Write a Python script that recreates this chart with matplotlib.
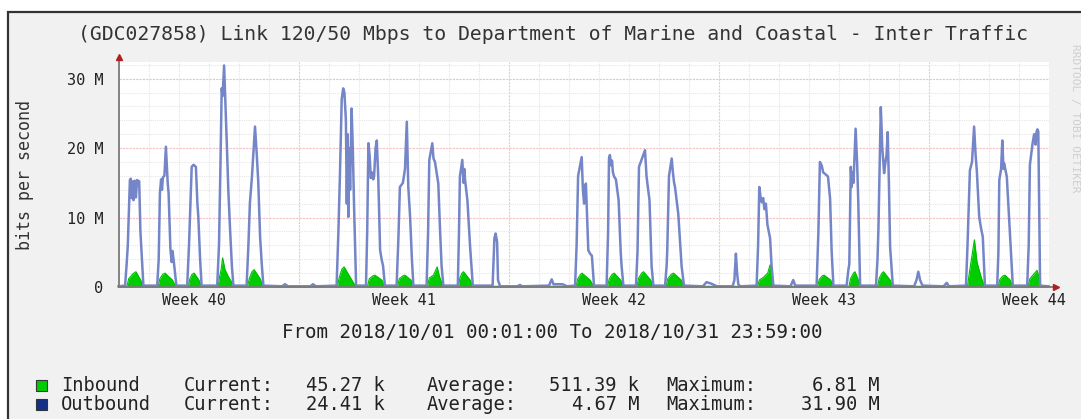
import matplotlib
matplotlib.use('Agg')
import matplotlib.pyplot as plt
from matplotlib.patches import Rectangle

W, H = 1081, 419
MONO = 'DejaVu Sans Mono'

TITLE = '(GDC027858) Link 120/50 Mbps to Department of Marine and Coastal - Inter Traffic'
PERIOD = 'From 2018/10/01 00:01:00 To 2018/10/31 23:59:00'
WEEK_POS = [2.5, 9.5, 16.5, 23.5, 30.5]          # days since 2018-10-01
WEEK_LABELS = ['Week 40', 'Week 41', 'Week 42', 'Week 43', 'Week 44']
Y_TICKS = [0, 10, 20, 30]
Y_LABELS = ['0', '10 M', '20 M', '30 M']

SERIES = ['Inbound', 'Outbound']
SERIES_COLORS = ['#00cc00', '#12308a']
CURRENT = ['45.27 k', '24.41 k']
AVERAGE = ['511.39 k', '4.67 M']
MAXIMUM = ['6.81 M', '31.90 M']

# outbound traffic, (day, Mbit/s)
OUTBOUND = [
    (0.00, 0.1), (0.22, 0.2), (0.27, 3.2), (0.31, 6.0), (0.38, 15.4), (0.41, 15.6), (0.44, 12.8),
    (0.47, 15.2), (0.50, 12.5), (0.54, 15.3), (0.58, 12.9), (0.62, 15.4), (0.69, 15.2), (0.73, 8.0),
    (0.83, 0.2),
    (1.29, 0.2), (1.34, 4.0), (1.38, 13.5), (1.42, 15.5), (1.45, 14.0), (1.48, 15.8), (1.53, 16.0),
    (1.58, 20.2), (1.64, 15.0), (1.67, 13.5), (1.73, 5.5), (1.77, 3.6), (1.80, 5.2), (1.85, 3.4),
    (1.93, 0.2),
    (2.29, 0.2), (2.35, 6.0), (2.44, 17.3), (2.50, 17.6), (2.58, 17.3), (2.63, 12.0), (2.66, 10.2),
    (2.72, 4.0), (2.77, 0.2),
    (3.29, 0.2), (3.35, 6.0), (3.40, 18.0), (3.44, 28.6), (3.47, 27.5), (3.52, 31.9), (3.56, 27.0),
    (3.61, 20.7), (3.66, 14.0), (3.72, 8.2), (3.78, 3.0), (3.83, 0.2),
    (4.27, 0.2), (4.33, 6.0), (4.38, 12.1), (4.45, 16.0), (4.55, 23.1), (4.61, 19.0), (4.66, 15.0),
    (4.72, 7.2), (4.78, 3.0), (4.83, 0.2),
    (5.45, 0.1), (5.55, 0.4), (5.65, 0.1), (6.40, 0.1), (6.48, 0.4), (6.58, 0.1),
    (7.27, 0.2), (7.33, 8.0), (7.38, 15.9), (7.44, 27.0), (7.49, 28.6), (7.53, 28.0), (7.58, 24.0),
    (7.61, 12.0), (7.64, 22.0), (7.66, 10.1), (7.69, 20.0), (7.72, 14.0), (7.77, 25.7), (7.81, 20.0),
    (7.85, 12.0), (7.92, 0.2),
    (8.25, 0.2), (8.29, 8.0), (8.33, 20.7), (8.37, 19.0), (8.41, 15.7), (8.45, 16.5), (8.49, 15.5),
    (8.52, 16.0), (8.57, 20.0), (8.61, 21.1), (8.66, 15.5), (8.72, 5.3), (8.77, 4.0), (8.82, 3.0),
    (8.88, 0.2),
    (9.27, 0.2), (9.33, 7.0), (9.38, 14.4), (9.48, 15.0), (9.55, 17.0), (9.61, 23.8), (9.66, 14.4),
    (9.72, 10.1), (9.78, 4.0), (9.83, 0.2),
    (10.27, 0.2), (10.32, 8.0), (10.36, 18.3), (10.46, 20.7), (10.50, 18.5), (10.55, 18.0),
    (10.66, 14.9), (10.72, 8.0), (10.77, 3.0), (10.83, 0.2),
    (11.31, 0.2), (11.35, 8.0), (11.38, 15.9), (11.46, 18.3), (11.50, 15.0), (11.53, 17.0),
    (11.55, 15.5), (11.63, 12.5), (11.72, 5.8), (11.81, 0.2),
    (12.47, 0.2), (12.53, 7.0), (12.57, 7.7), (12.62, 6.5), (12.65, 1.0), (12.72, 0.1),
    (13.30, 0.1), (13.38, 0.3), (13.46, 0.1), (14.35, 0.2), (14.44, 1.1), (14.50, 0.4), (14.80, 0.4),
    (14.95, 0.1),
    (15.22, 0.2), (15.27, 6.0), (15.32, 16.0), (15.44, 18.7), (15.48, 14.0), (15.52, 12.0),
    (15.55, 14.5), (15.58, 14.9), (15.66, 5.3), (15.72, 4.8), (15.78, 4.5), (15.85, 0.2),
    (16.27, 0.2), (16.32, 8.0), (16.35, 18.5), (16.38, 19.0), (16.42, 17.5), (16.45, 18.2),
    (16.48, 16.5), (16.52, 15.9), (16.58, 15.5), (16.67, 12.5), (16.74, 5.0), (16.77, 3.0),
    (16.83, 0.2),
    (17.25, 0.2), (17.30, 5.0), (17.35, 17.3), (17.45, 18.5), (17.55, 19.7), (17.60, 16.0),
    (17.63, 14.9), (17.70, 12.5), (17.77, 3.0), (17.83, 0.2),
    (18.22, 0.2), (18.27, 3.0), (18.29, 5.0), (18.35, 16.0), (18.44, 18.5), (18.48, 16.5),
    (18.52, 15.0), (18.55, 14.4), (18.66, 10.5), (18.74, 5.0), (18.77, 3.0), (18.85, 0.2),
    (19.48, 0.1), (19.60, 0.7), (19.75, 0.5), (19.95, 0.1),
    (20.47, 0.1), (20.53, 1.0), (20.58, 4.8), (20.62, 2.0), (20.66, 0.4), (20.72, 0.1),
    (21.27, 0.2), (21.32, 6.0), (21.36, 14.4), (21.40, 13.0), (21.44, 12.2), (21.49, 12.8),
    (21.53, 11.2), (21.58, 12.0), (21.63, 9.0), (21.72, 7.0), (21.77, 3.0), (21.83, 0.2),
    (22.40, 0.1), (22.49, 1.0), (22.56, 0.2),
    (23.27, 0.2), (23.33, 8.0), (23.38, 18.0), (23.44, 17.5), (23.49, 16.5), (23.55, 16.3),
    (23.65, 15.9), (23.72, 12.7), (23.77, 5.3), (23.83, 0.2),
    (24.27, 0.2), (24.33, 2.5), (24.36, 3.3), (24.41, 17.3), (24.44, 14.4), (24.47, 16.5),
    (24.50, 15.0), (24.57, 22.8), (24.62, 18.0), (24.66, 12.1), (24.72, 0.2),
    (25.25, 0.2), (25.30, 4.0), (25.33, 8.2), (25.41, 25.9), (25.46, 20.0), (25.52, 16.4),
    (25.55, 17.5), (25.60, 19.0), (25.64, 22.3), (25.68, 15.0), (25.72, 5.8), (25.81, 0.2),
    (26.52, 0.1), (26.60, 1.0), (26.66, 2.2), (26.72, 1.0), (26.80, 0.2),
    (27.50, 0.1), (27.61, 0.6), (27.68, 0.1),
    (28.25, 0.2), (28.30, 6.0), (28.38, 16.8), (28.45, 18.0), (28.52, 23.1), (28.57, 19.0),
    (28.61, 16.8), (28.69, 10.1), (28.75, 8.5), (28.81, 7.2), (28.88, 0.2),
    (29.29, 0.2), (29.33, 5.0), (29.36, 15.4), (29.42, 17.0), (29.46, 21.1), (29.50, 17.0),
    (29.52, 17.8), (29.61, 15.9), (29.72, 7.2), (29.81, 0.2),
    (30.29, 0.2), (30.34, 6.0), (30.38, 17.6), (30.47, 20.7), (30.52, 22.0), (30.57, 20.5),
    (30.60, 22.3), (30.63, 22.7), (30.66, 22.4), (30.72, 0.2), (31.00, 0.1),
]

# inbound traffic, (day, Mbit/s)
INBOUND = [
    (0.00, 0.05),
    (0.28, 0.1), (0.34, 1.2), (0.48, 1.9), (0.58, 2.2), (0.74, 1.0), (0.82, 0.1),
    (1.32, 0.1), (1.38, 1.2), (1.47, 1.8), (1.55, 2.0), (1.80, 1.0), (1.90, 0.1),
    (2.33, 0.1), (2.38, 1.2), (2.45, 1.8), (2.52, 2.0), (2.68, 1.0), (2.76, 0.1),
    (3.32, 0.1), (3.37, 1.5), (3.42, 2.5), (3.47, 4.2), (3.55, 2.5), (3.66, 1.5), (3.76, 0.8), (3.82, 0.1),
    (4.30, 0.1), (4.36, 1.2), (4.45, 2.2), (4.52, 2.5), (4.72, 1.2), (4.82, 0.1),
    (7.30, 0.1), (7.36, 1.4), (7.45, 2.6), (7.52, 2.9), (7.75, 1.2), (7.90, 0.1),
    (8.30, 0.1), (8.36, 1.2), (8.48, 1.6), (8.55, 1.7), (8.78, 1.0), (8.86, 0.1),
    (9.30, 0.1), (9.36, 1.2), (9.48, 1.6), (9.55, 1.7), (9.75, 1.0), (9.82, 0.1),
    (10.30, 0.1), (10.36, 1.3), (10.50, 1.7), (10.62, 2.9), (10.70, 1.5), (10.82, 0.1),
    (11.33, 0.1), (11.38, 1.3), (11.45, 2.0), (11.50, 2.2), (11.72, 1.0), (11.80, 0.1),
    (15.25, 0.1), (15.31, 1.2), (15.40, 1.8), (15.45, 2.0), (15.72, 1.0), (15.84, 0.1),
    (16.30, 0.1), (16.36, 1.2), (16.45, 1.8), (16.52, 2.0), (16.74, 1.0), (16.82, 0.1),
    (17.28, 0.1), (17.34, 1.3), (17.44, 2.0), (17.50, 2.2), (17.74, 1.0), (17.82, 0.1),
    (18.25, 0.1), (18.31, 1.2), (18.42, 1.8), (18.50, 2.0), (18.76, 1.0), (18.84, 0.1),
    (21.30, 0.1), (21.36, 1.0), (21.50, 1.4), (21.64, 2.0), (21.72, 3.2), (21.82, 0.1),
    (23.30, 0.1), (23.36, 1.1), (23.46, 1.6), (23.52, 1.7), (23.74, 1.0), (23.82, 0.1),
    (24.35, 0.1), (24.40, 1.2), (24.50, 2.0), (24.55, 2.2), (24.66, 1.0), (24.72, 0.1),
    (25.30, 0.1), (25.36, 1.3), (25.45, 2.0), (25.50, 2.2), (25.72, 1.0), (25.80, 0.1),
    (28.30, 0.1), (28.36, 2.0), (28.45, 4.5), (28.53, 6.8), (28.62, 3.5), (28.75, 1.5), (28.86, 0.1),
    (29.32, 0.1), (29.38, 1.1), (29.48, 1.6), (29.55, 1.7), (29.72, 1.0), (29.80, 0.1),
    (30.32, 0.1), (30.38, 1.2), (30.50, 1.8), (30.62, 2.4), (30.68, 1.5), (30.72, 0.1),
    (31.00, 0.05),
]


def fx(x):
    return x / W


def fy(y):
    return 1 - y / H


fig = plt.figure(figsize=(W / 100, H / 100), dpi=100)
fig.patch.set_facecolor('white')
fig.patches.append(Rectangle((fx(8), -0.05), 1.0, fy(12) + 0.05, transform=fig.transFigure,
                             facecolor='#f1f1f1', edgecolor='#333333', lw=1.6, zorder=-10))

ax = fig.add_axes([fx(118.5), fy(287), (1048.5 - 118.5) / W, (287 - 62) / H])
ax.set_zorder(1)
ax.set_facecolor('white')
ax.set_xlim(0, 31)
ax.set_ylim(0, 32.4)
for s in ax.spines.values():
    s.set_visible(False)

# grid: days / 2M minor, weeks / 10M major
for d in range(1, 31):
    major = d in (6, 13, 20, 27)
    ax.axvline(d, color='#e2cccc' if major else '#e4e4e4', lw=0.8,
               ls=(0, (2, 1)) if major else (0, (1, 1)), zorder=1)
for v in range(2, 33, 2):
    major = v % 10 == 0
    ax.axhline(v, color='#f3c0c0' if major else '#e6e6e6', lw=0.8,
               ls=(0, (2, 1)) if major else (0, (1, 1)), zorder=1)

in_t = [p[0] for p in INBOUND]
in_v = [p[1] for p in INBOUND]
out_t = [p[0] for p in OUTBOUND]
out_v = [p[1] for p in OUTBOUND]

ax.fill_between(in_t, in_v, 0, color='#00cc00', lw=0, zorder=2)
ax.plot(in_t, in_v, color='#00bb00', lw=0.8, zorder=2)
ax.plot(out_t, out_v, color='#7485c8', lw=1.8, zorder=3, clip_on=False)

# axes with arrows
ax.plot([0, 31.2], [0, 0], color='#7a7a7a', lw=1.3, zorder=4, clip_on=False)
ax.plot([0, 0], [0, 33.0], color='#7a7a7a', lw=1.3, zorder=4, clip_on=False)
ax.plot([31.25], [0], marker='>', color='#b02020', ms=5, zorder=5, clip_on=False)
ax.plot([0], [33.1], marker='^', color='#b02020', ms=5, zorder=5, clip_on=False)

ax.set_xticks(WEEK_POS)
ax.set_xticklabels(WEEK_LABELS, fontfamily=MONO, fontsize=11, color='#222222')
ax.set_yticks(Y_TICKS)
ax.set_yticklabels(Y_LABELS, fontfamily=MONO, fontsize=11, color='#222222')
ax.tick_params(axis='x', length=0, pad=4)
ax.tick_params(axis='y', length=0, pad=11)

fig.text(fx(553), fy(35), TITLE, fontfamily=MONO, fontsize=14.2, color='#333333',
         ha='center', va='center')
fig.text(fx(25), fy(175), 'bits per second', fontfamily=MONO, fontsize=12, color='#333333',
         rotation=90, ha='center', va='center')
fig.text(fx(552), fy(332), PERIOD, fontfamily=MONO, fontsize=13.8, color='#222222',
         ha='center', va='center')
fig.text(fx(1075), fy(118), 'RRDTOOL / TOBI OETIKER', fontfamily=MONO, fontsize=8,
         color='#cfcfcf', rotation=270, ha='center', va='center')

# legend rows
for i, name in enumerate(SERIES):
    yc = 385 + 19 * i
    fig.patches.append(Rectangle((fx(36), fy(yc + 5.5)), 11 / W, 11 / H, transform=fig.transFigure,
                                 facecolor=SERIES_COLORS[i], edgecolor='#333333', lw=0.8, zorder=2))
    kw = dict(fontfamily=MONO, fontsize=13.5, color='#222222', va='center')
    fig.text(fx(61), fy(yc), name, ha='left', **kw)
    fig.text(fx(184), fy(yc), 'Current:', ha='left', **kw)
    fig.text(fx(385), fy(yc), CURRENT[i], ha='right', **kw)
    fig.text(fx(427), fy(yc), 'Average:', ha='left', **kw)
    fig.text(fx(639), fy(yc), AVERAGE[i], ha='right', **kw)
    fig.text(fx(666), fy(yc), 'Maximum:', ha='left', **kw)
    fig.text(fx(880), fy(yc), MAXIMUM[i], ha='right', **kw)

fig.savefig('out.png', dpi=100)
